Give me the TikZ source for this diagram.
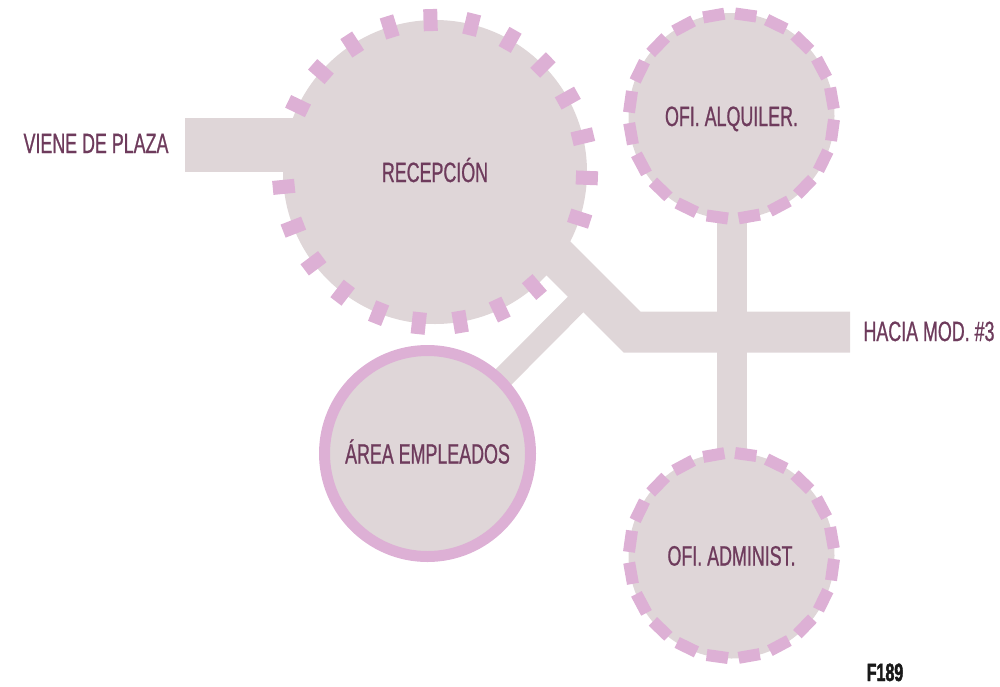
\documentclass[tikz,border=0pt]{standalone}
\usepackage{fontspec}
\setmainfont[FakeStretch=0.64,FakeBold=0.8,BoldFeatures={FakeBold=1.8}]{Liberation Sans}
\usetikzlibrary{calc}
\pgfdeclarelayer{back}
\pgfdeclarelayer{mid}
\pgfsetlayers{back,mid,main}
\definecolor{roomfill}{RGB}{223,214,216}
\definecolor{dashpink}{RGB}{221,176,213}
\definecolor{labeltext}{RGB}{110,59,92}
\definecolor{figtext}{RGB}{25,25,25}
\begin{document}
\begin{tikzpicture}[x=1pt,y=-1pt,
  lbl/.style={text=labeltext, font=\fontsize{27.9}{30}\selectfont, inner sep=0pt,
              text height=20pt, text depth=0pt},
  room/.style={circle, fill=roomfill, inner sep=0pt, minimum size=#1, lbl},
  band/.style={draw=roomfill, line width=#1, line join=miter},
  dashmark/.style={draw=dashpink, line width=#1},
]
\useasboundingbox (0,0) rectangle (1000,686);

% Recepcion on the back layer
\begin{pgfonlayer}{back}
\node[room=304pt] (rec) at (435,172) {RECEPCIÓN};
\foreach \k in {0,...,22}{
  \pgfmathsetmacro\a{-(91.7+15.652*\k)}
  \draw[dashmark=14pt, shift={(rec.center)}] (\a:141) -- (\a:163);
}
\end{pgfonlayer}

% other rooms
\node[room=206pt] (alq) at (731.5,116) {OFI. ALQUILER.};
\node[room=206pt] (adm) at (731.5,555.5) {OFI. ADMINIST.};
\node[room=206pt, draw=dashpink, line width=11pt] (area) at (427.5,453.5) {ÁREA EMPLEADOS};
\foreach \k in {0,...,19}{
  \pgfmathsetmacro\a{-(82+18*\k)}
  \draw[dashmark=21.5pt, shift={(alq.center)}] (\a:96) -- (\a:108);
  \draw[dashmark=21.5pt, shift={(adm.center)}] (\a:96) -- (\a:108);
}

% outside labels
\node[lbl] (viene) at (96,143) {VIENE DE PLAZA};
\node[lbl] (hacia) at (929,331) {HACIA MOD. \#3};
\node[lbl, text=figtext, font=\fontsize{25}{27}\selectfont\bfseries, text height=18pt] (fig) at (885,672) {F189};

% connectors
\coordinate (vstart) at (185,145);
\coordinate (vend) at (330,145);
\coordinate (d1) at (520,220);
\coordinate (d2) at (632,332);
\coordinate (hend) at (850,332);
\coordinate (b1) at (590,290);
\begin{pgfonlayer}{mid}
\draw[band=54pt] (vstart) -- (vend);
\draw[band=41pt] (d1) -- (d2) -- (hend);
\draw[band=22pt] (area.center) -- (b1);
\draw[band=30pt] (alq.center) -- (adm.center);
\end{pgfonlayer}
\end{tikzpicture}
\end{document}
